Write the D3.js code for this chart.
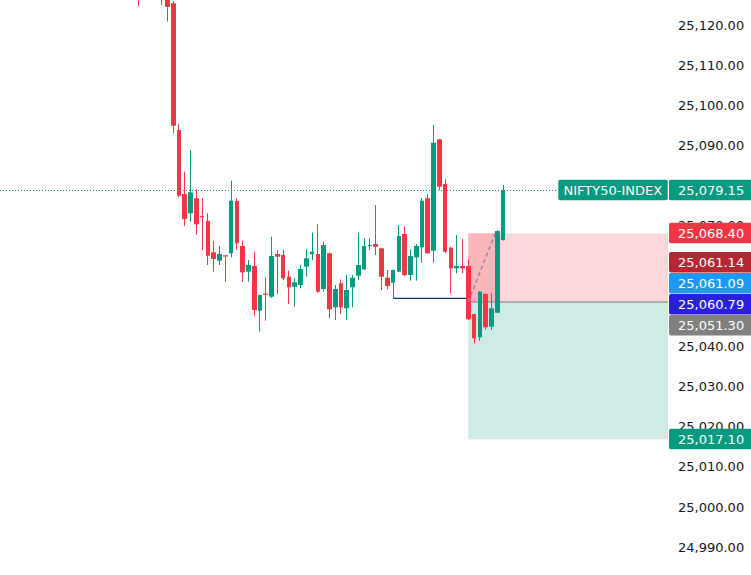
<!DOCTYPE html>
<html>
<head>
<meta charset="utf-8">
<script src="https://cdn.jsdelivr.net/npm/d3@7/dist/d3.min.js"></script>
<style>
body { margin: 0; background: #ffffff; overflow: hidden; }
svg { display: block; }
</style>
</head>
<body>
<script>
// bars are numbered from -6 (partly above the view) to 57 (last bar)
var firstBar = -6;
var opens = [25131.0, 25129.0, 25133.0, 25130.0, 25132.0, 25128.5,
	25125.68, 25094.13, 25078.19, 25073.39, 25077.12, 25072.72, 25071.47, 25063.68, 25061.59, 25062.93,
	25063.43, 25076.45, 25065.25, 25058.85, 25060.27, 25049.14, 25053.37, 25052.62, 25063.25, 25063.00,
	25057.60, 25055.11, 25055.53, 25060.09, 25063.18, 25063.25, 25054.54, 25063.43, 25049.98, 25055.96,
	25049.73, 25054.96, 25057.85, 25059.44, 25065.32, 25065.74, 25064.67, 25057.35, 25056.11, 25058.85,
	25068.23, 25058.02, 25062.43, 25064.92, 25077.12, 25064.08, 25091.81, 25080.68, 25064.82, 25059.69,
	25060.27, 25060.27, 25048.31, 25042.51, 25053.29, 25045.15, 25048.64, 25066.74];
var highs = [25133.0, 25135.0, 25136.0, 25134.0, 25133.0, 25130.0,
	25126.25, 25095.62, 25083.75, 25089.15, 25079.36, 25077.12, 25073.39, 25066.57, 25065.25, 25063.00,
	25081.51, 25077.12, 25066.57, 25061.76, 25063.83, 25053.20, 25057.45, 25067.56, 25064.25, 25064.25,
	25059.10, 25057.20, 25060.51, 25064.50, 25068.56, 25070.72, 25066.32, 25063.63, 25055.53, 25056.95,
	25058.02, 25058.02, 25068.56, 25067.16, 25067.16, 25075.45, 25064.80, 25059.27, 25059.40, 25070.47,
	25070.05, 25064.42, 25065.74, 25077.12, 25078.19, 25095.37, 25091.90, 25081.93, 25065.07, 25067.98,
	25066.99, 25061.93, 25048.40, 25054.00, 25053.40, 25053.62, 25069.23, 25080.43];
var lows = [25125.0, 25127.5, 25128.0, 25127.5, 25125.3, 25121.1,
	25093.38, 25077.45, 25070.23, 25071.30, 25067.98, 25064.25, 25060.51, 25058.85, 25060.51, 25056.36,
	25062.43, 25064.25, 25056.36, 25056.36, 25047.89, 25043.91, 25046.65, 25052.30, 25053.29, 25056.78,
	25050.80, 25050.13, 25054.71, 25057.60, 25061.76, 25053.60, 25053.87, 25047.24, 25046.82, 25048.31,
	25046.82, 25049.98, 25056.78, 25059.27, 25064.25, 25063.00, 25054.29, 25054.46, 25052.22, 25058.70,
	25057.78, 25056.61, 25056.61, 25061.09, 25063.30, 25061.09, 25079.19, 25063.43, 25053.47, 25058.45,
	25058.45, 25046.82, 25041.02, 25041.67, 25044.33, 25044.33, 25048.49, 25066.57];
var closes = [25128.0, 25133.0, 25130.0, 25131.5, 25129.0, 25124.8,
	25095.20, 25077.77, 25071.97, 25078.62, 25070.65, 25072.39, 25062.83, 25062.01, 25063.25, 25062.76,
	25076.53, 25065.92, 25058.70, 25060.51, 25049.31, 25053.04, 25053.22, 25062.76, 25062.58, 25057.20,
	25054.96, 25056.21, 25059.52, 25062.18, 25063.83, 25053.87, 25065.49, 25049.48, 25054.54, 25049.98,
	25054.29, 25057.35, 25060.51, 25065.25, 25065.49, 25065.07, 25057.60, 25055.29, 25059.27, 25067.74,
	25058.02, 25062.76, 25065.25, 25076.53, 25063.43, 25090.97, 25080.01, 25063.83, 25059.69, 25060.27,
	25059.69, 25046.99, 25042.26, 25053.87, 25045.00, 25049.73, 25068.98, 25079.15];

var priceTicks = [25120, 25110, 25100, 25090, 25080, 25070, 25060, 25050, 25040, 25030, 25020, 25010, 25000, 24990];

var symbolName = "NIFTY50-INDEX";
var lastPrice = 25079.15;
var studyPrices = [25061.14, 25061.09, 25060.79];

// short position tool
var stopPrice = 25068.40;
var entryPrice = 25051.30;
var targetPrice = 25017.10;
var positionBar = 51;
var stopHitBar = 56;

// horizontal ray
var rayBar = 38;
var rayPrice = 25052.22;

window.onload = function(){
	var width = 751, height = 575, plotRight = 668;
	var up = "#089981", down = "#f23645";
	var font = "'DejaVu Sans', Verdana, sans-serif";
	var fmt = d3.format(",.2f");

	var svg = d3.select("body").append("svg")
		.attr("width", width)
		.attr("height", height);

	var x = d3.scaleLinear().domain([0, 57]).range([173.2, 503.0]);
	var y = d3.scaleLinear().domain([24990, 25120]).range([548.2, 26.1]);

	var bars = opens.map(function(o, k){
		return {i: firstBar + k, o: o, h: highs[k], l: lows[k], c: closes[k]};
	});

	var plot = svg.append("g");

	// position boxes
	var boxLeft = x(positionBar);
	plot.append("rect")
		.attr("x", boxLeft).attr("y", y(stopPrice))
		.attr("width", plotRight - boxLeft).attr("height", y(entryPrice) - y(stopPrice))
		.attr("fill", "rgba(242,54,69,0.2)");
	plot.append("rect")
		.attr("x", boxLeft).attr("y", y(entryPrice))
		.attr("width", plotRight - boxLeft).attr("height", y(targetPrice) - y(entryPrice))
		.attr("fill", "rgba(8,153,129,0.2)");
	plot.append("rect")
		.attr("x", boxLeft).attr("y", y(stopPrice))
		.attr("width", x(stopHitBar) + 2.9 - boxLeft).attr("height", y(entryPrice) - y(stopPrice))
		.attr("fill", "rgba(242,54,69,0.2)");
	plot.append("line")
		.attr("x1", boxLeft).attr("x2", plotRight)
		.attr("y1", y(entryPrice)).attr("y2", y(entryPrice))
		.attr("stroke", "#787b86").attr("stroke-width", 1);

	// ray
	plot.append("line")
		.attr("x1", x(rayBar)).attr("x2", boxLeft)
		.attr("y1", y(rayPrice)).attr("y2", y(rayPrice))
		.attr("stroke", "#1b2a7a").attr("stroke-width", 1.2);

	// last price line
	plot.append("line")
		.attr("x1", 0).attr("x2", 558)
		.attr("y1", Math.round(y(lastPrice)) + 0.5).attr("y2", Math.round(y(lastPrice)) + 0.5)
		.attr("stroke", up).attr("stroke-width", 1)
		.attr("stroke-dasharray", "1,2");

	// candles
	var candles = plot.selectAll("g.candle")
		.data(bars)
		.enter()
		.append("g")
		.attr("class", "candle");
	candles.append("line")
		.attr("x1", function(d){return Math.floor(x(d.i)) + 0.5;})
		.attr("x2", function(d){return Math.floor(x(d.i)) + 0.5;})
		.attr("y1", function(d){return y(d.h);})
		.attr("y2", function(d){return y(d.l);})
		.attr("stroke", function(d){return d.c >= d.o ? up : down;})
		.attr("stroke-width", 1);
	candles.append("rect")
		.attr("x", function(d){return Math.round(x(d.i) - 2.3);})
		.attr("width", function(d){return Math.round(x(d.i) + 2.3) - Math.round(x(d.i) - 2.3);})
		.attr("y", function(d){return y(Math.max(d.o, d.c));})
		.attr("height", function(d){return Math.max(1.2, Math.abs(y(d.o) - y(d.c)));})
		.attr("fill", function(d){return d.c >= d.o ? up : down;});

	// stop-out path
	plot.append("line")
		.attr("x1", boxLeft).attr("y1", y(entryPrice))
		.attr("x2", x(stopHitBar) - 2).attr("y2", y(stopPrice))
		.attr("stroke", "#8a8d96").attr("stroke-width", 1.5)
		.attr("stroke-dasharray", "4,3");

	// scale labels, pushed down so they do not overlap
	var labels = [
		{v: lastPrice, color: up},
		{v: stopPrice, color: down},
		{v: studyPrices[0], color: "#b22833"},
		{v: studyPrices[1], color: "#2196f3"},
		{v: studyPrices[2], color: "#2a1fe0"},
		{v: entryPrice, color: "#808080"},
		{v: targetPrice, color: up}
	];
	var lh = 21, prev = -1000;
	labels.forEach(function(d){
		d.cy = Math.max(y(d.v), prev + lh);
		prev = d.cy;
	});

	// price scale, skipping ticks that a label hides completely
	var shown = priceTicks.filter(function(t){
		var ty = y(t) - 1;
		return !labels.some(function(d){
			return ty - 5 >= d.cy - lh / 2 && ty + 5 <= d.cy + lh / 2;
		});
	});
	svg.append("g").selectAll("text")
		.data(shown)
		.enter()
		.append("text")
		.attr("x", 678)
		.attr("y", function(d){return y(d) - 1;})
		.attr("dominant-baseline", "central")
		.attr("font-family", font)
		.attr("font-size", 13)
		.attr("fill", "#131722")
		.text(function(d){return fmt(d);});

	var lab = svg.append("g").selectAll("g")
		.data(labels)
		.enter()
		.append("g");
	lab.append("rect")
		.attr("x", 669)
		.attr("y", function(d){return d.cy - lh / 2;})
		.attr("width", 90)
		.attr("height", lh - 0.5)
		.attr("rx", 2)
		.attr("fill", function(d){return d.color;});
	lab.append("text")
		.attr("x", 678)
		.attr("y", function(d){return d.cy;})
		.attr("dominant-baseline", "central")
		.attr("font-family", font)
		.attr("font-size", 13)
		.attr("fill", "#ffffff")
		.text(function(d){return fmt(d.v);});

	// symbol tag next to last price
	var ly = y(lastPrice);
	svg.append("rect")
		.attr("x", 558.3).attr("y", ly - lh / 2)
		.attr("width", 109.4).attr("height", lh - 0.5)
		.attr("rx", 2)
		.attr("fill", up);
	svg.append("text")
		.attr("x", 563.5).attr("y", ly)
		.attr("dominant-baseline", "central")
		.attr("font-family", font)
		.attr("font-size", 13)
		.attr("fill", "#ffffff")
		.text(symbolName);
};
</script>
</body>
</html>
